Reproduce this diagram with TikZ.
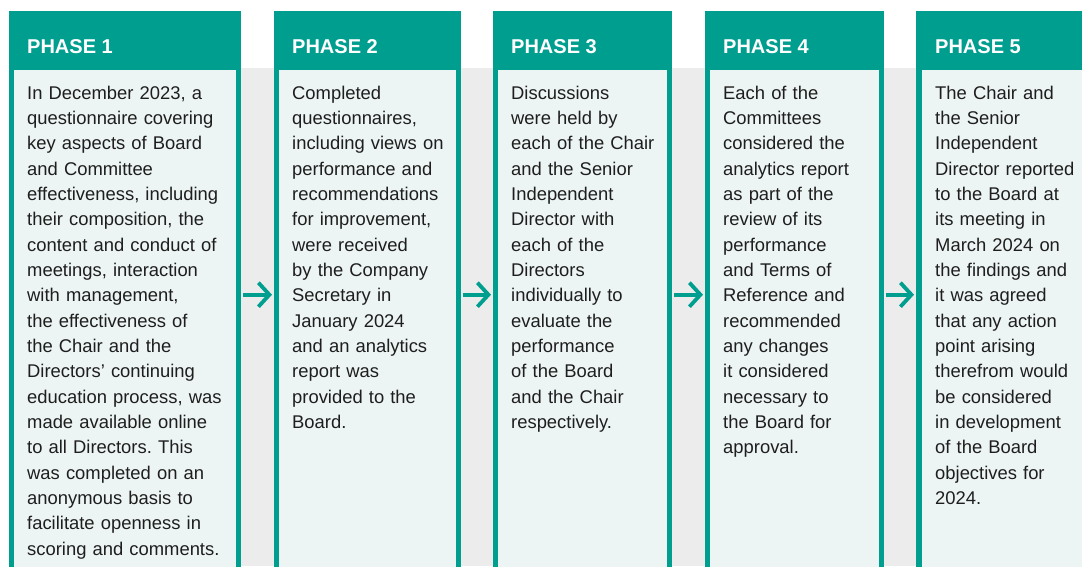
\documentclass[tikz,border=0pt]{standalone}
\usepackage{fontspec}
\setmainfont{Liberation Sans}
\usetikzlibrary{arrows.meta}
\frenchspacing
\definecolor{teal1}{RGB}{0,158,143}
\definecolor{bodybg}{RGB}{237,245,244}
\definecolor{gapgrey}{RGB}{236,236,236}
\definecolor{txt}{RGB}{30,30,30}
\tikzset{
  colbox/.style={fill=teal1, draw=none, inner sep=0, anchor=north west},
  bodybox/.style={fill=bodybg, draw=none, inner sep=0, anchor=north west},
  phasehead/.style={anchor=base west, inner sep=0, text=white, font=\fontsize{20}{24}\selectfont\bfseries},
  bodytext/.style={anchor=base west, inner sep=0, text=txt, text width=230pt, align=left, font=\fontsize{18.4}{25.35}\selectfont\frenchspacing},
  flowarrow/.style={draw=teal1, line width=3.8pt, -{Straight Barb[length=11pt,width=24pt]}}
}
\begin{document}
\begin{tikzpicture}[x=1pt,y=-1pt]
\useasboundingbox (0,0) rectangle (1082,566);
\fill[gapgrey] (241,68) rectangle (1082,566);
% columns
\node[colbox, minimum width=232pt, minimum height=560pt] (c1) at (9,11) {};
\node[colbox, minimum width=187pt, minimum height=560pt] (c2) at (274,11) {};
\node[colbox, minimum width=179pt, minimum height=560pt] (c3) at (493,11) {};
\node[colbox, minimum width=179pt, minimum height=560pt] (c4) at (705,11) {};
\node[colbox, minimum width=170pt, minimum height=560pt] (c5) at (916,11) {};
% bodies
\node[bodybox, minimum width=222pt, minimum height=500pt] (b1) at (14,70) {};
\node[bodybox, minimum width=177pt, minimum height=500pt] (b2) at (279,70) {};
\node[bodybox, minimum width=169pt, minimum height=500pt] (b3) at (498,70) {};
\node[bodybox, minimum width=169pt, minimum height=500pt] (b4) at (710,70) {};
\node[bodybox, minimum width=164pt, minimum height=500pt] (b5) at (922,70) {};
% headers
\node[phasehead] (h1) at (27,53) {PHASE 1};
\node[phasehead] (h2) at (292,53) {PHASE 2};
\node[phasehead] (h3) at (511,53) {PHASE 3};
\node[phasehead] (h4) at (723,53) {PHASE 4};
\node[phasehead] (h5) at (935,53) {PHASE 5};
% texts
\node[bodytext] (t1) at (27,99) {In December 2023, a\\questionnaire covering\\key aspects of Board\\and Committee\\effectiveness, including\\their composition, the\\content and conduct of\\meetings, interaction\\with management,\\the effectiveness of\\the Chair and the\\Directors’ continuing\\education process, was\\made available online\\to all Directors. This\\was completed on an\\anonymous basis to\\facilitate openness in\\scoring and comments.};
\node[bodytext] (t2) at (292,99) {Completed\\questionnaires,\\including views on\\performance and\\recommendations\\for improvement,\\were received\\by the Company\\Secretary in\\January 2024\\and an analytics\\report was\\provided to the\\Board.};
\node[bodytext] (t3) at (511,99) {Discussions\\were held by\\each of the Chair\\and the Senior\\Independent\\Director with\\each of the\\Directors\\individually to\\evaluate the\\performance\\of the Board\\and the Chair\\respectively.};
\node[bodytext] (t4) at (723,99) {Each of the\\Committees\\considered the\\analytics report\\as part of the\\review of its\\performance\\and Terms of\\Reference and\\recommended\\any changes\\it considered\\necessary to\\the Board for\\approval.};
\node[bodytext] (t5) at (935,99) {The Chair and\\the Senior\\Independent\\Director reported\\to the Board at\\its meeting in\\March 2024 on\\the findings and\\it was agreed\\that any action\\point arising\\therefrom would\\be considered\\in development\\of the Board\\objectives for\\2024.};
% arrows
\draw[flowarrow] ([shift={(2,3.5)}]c1.east) -- ([shift={(-2,3.5)}]c2.west);
\draw[flowarrow] ([shift={(2,3.5)}]c2.east) -- ([shift={(-2,3.5)}]c3.west);
\draw[flowarrow] ([shift={(2,3.5)}]c3.east) -- ([shift={(-2,3.5)}]c4.west);
\draw[flowarrow] ([shift={(2,3.5)}]c4.east) -- ([shift={(-2,3.5)}]c5.west);
\end{tikzpicture}
\end{document}
